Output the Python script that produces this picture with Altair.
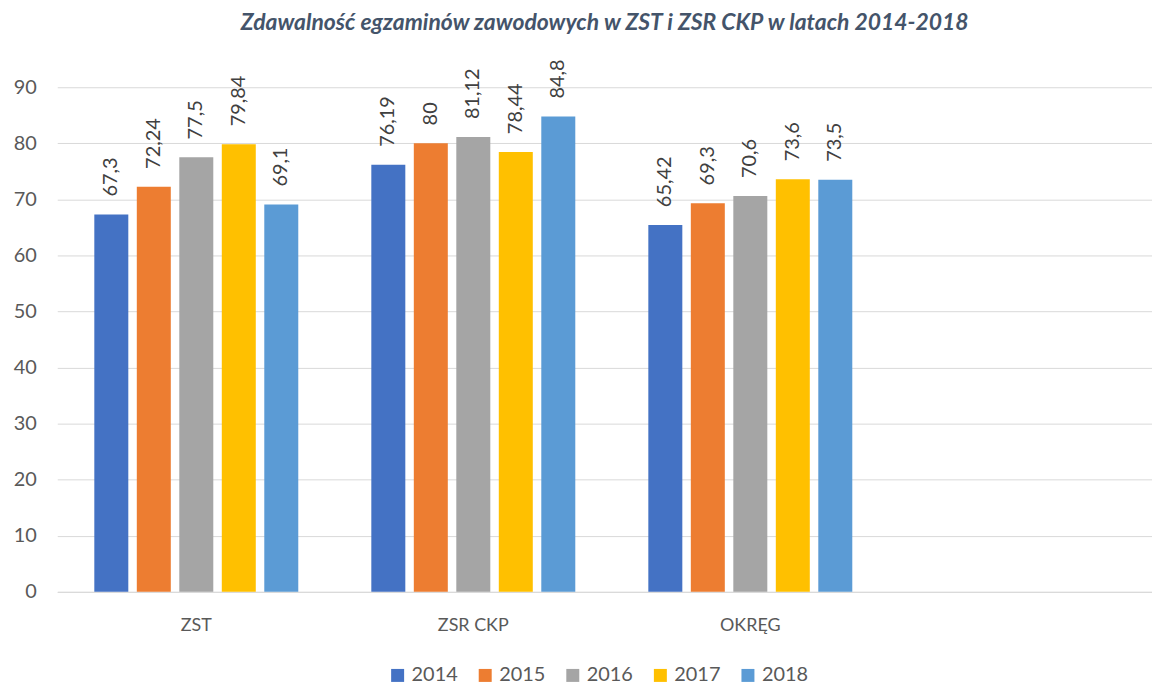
import altair as alt
import pandas as pd

categories = ["ZST", "ZSR CKP", "OKRĘG"]
years = ["2014", "2015", "2016", "2017", "2018"]
v2014 = [67.3, 76.19, 65.42]
v2015 = [72.24, 80, 69.3]
v2016 = [77.5, 81.12, 70.6]
v2017 = [79.84, 78.44, 73.6]
v2018 = [69.1, 84.8, 73.5]
labels2014 = ["67,3", "76,19", "65,42"]
labels2015 = ["72,24", "80", "69,3"]
labels2016 = ["77,5", "81,12", "70,6"]
labels2017 = ["79,84", "78,44", "73,6"]
labels2018 = ["69,1", "84,8", "73,5"]
colors = ["#4472C4", "#ED7D31", "#A5A5A5", "#FFC000", "#5B9BD5"]

series = [v2014, v2015, v2016, v2017, v2018]
lbls = [labels2014, labels2015, labels2016, labels2017, labels2018]
rows = []
for yi, y in enumerate(years):
    for ci, c in enumerate(categories):
        rows.append({"cat": c, "year": y, "value": series[yi][ci], "label": lbls[yi][ci]})
df = pd.DataFrame(rows)

FONT = "Lato"
domain_x = categories + [" "]

xenc = alt.X("cat:N", scale=alt.Scale(domain=domain_x, paddingInner=0.233, paddingOuter=0.0925, align=0.64),
             axis=alt.Axis(title=None, labelAngle=0, labelFontSize=18, labelColor="#595959",
                           labelFont=FONT, ticks=False, domainColor="#D9D9D9", domainWidth=1,
                           labelPadding=25))
xoff = alt.XOffset("year:N", scale=alt.Scale(paddingInner=0.2, paddingOuter=0.1))
yenc = alt.Y("value:Q", scale=alt.Scale(domain=[0, 90], nice=False),
             axis=alt.Axis(title=None, values=list(range(0, 91, 10)), labelFontSize=20,
                           labelColor="#595959", labelFont=FONT, ticks=False, domain=False,
                           gridColor="#D9D9D9", labelPadding=21))

bars = alt.Chart(df).mark_bar().encode(
    x=xenc, xOffset=xoff, y=yenc,
    color=alt.Color("year:N", scale=alt.Scale(domain=years, range=colors),
                    legend=alt.Legend(title=None, orient="none", direction="horizontal",
                                      legendX=332, legendY=581, symbolType="square",
                                      symbolSize=170, labelFontSize=20, labelColor="#595959",
                                      labelFont=FONT, columnPadding=17, symbolStrokeWidth=0)),
)

text = alt.Chart(df).mark_text(angle=270, align="left", baseline="middle", dx=18,
                               fontSize=20, color="#404040", font=FONT).encode(
    x=xenc, xOffset=xoff, y=yenc, text="label:N")

chart = (bars + text).properties(
    width=1100, height=507,
    title=alt.TitleParams("Zdawalność egzaminów zawodowych w ZST i ZSR CKP w latach 2014-2018",
                          font=FONT, fontSize=23, fontWeight="bold", fontStyle="italic",
                          color="#44546A", anchor="middle", offset=24),
    autosize=alt.AutoSizeParams(type="none"),
    padding={"left": 49.5, "top": 78, "right": 0, "bottom": 94},
).configure_view(stroke=None)

chart.save("out.html", embed_options={"renderer": "svg", "actions": False})
